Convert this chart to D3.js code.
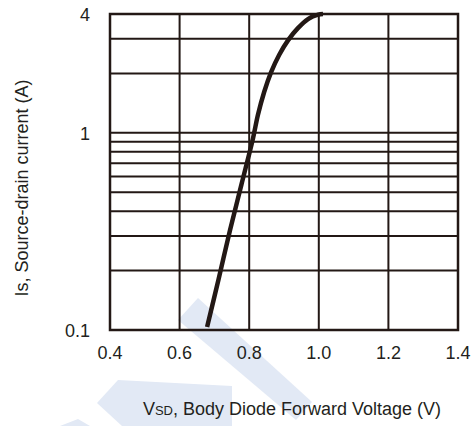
<!DOCTYPE html>
<html>
<head>
<meta charset="utf-8">
<script src="https://cdn.jsdelivr.net/npm/d3@7"></script>
<style>
	body { margin: 0; background: #fff; }
	svg text { font-family: 'Liberation Sans', Arial, sans-serif; fill: #231f20; }
</style>
</head>
<body>
<div id="chart"></div>
<script>
// ********** BODY DIODE FORWARD VOLTAGE CHART **********

// Curve values
const vsd = [0.679, 0.712, 0.745, 0.778, 0.811, 0.825, 0.843, 0.863, 0.886, 0.912, 0.940, 0.969, 0.998, 1.012];
const isd = [0.1035, 0.181, 0.321, 0.549, 0.939, 1.23, 1.61, 2.03, 2.48, 2.95, 3.39, 3.77, 3.97, 4.0];

// Grid and tick values
const xTicks = [0.4, 0.6, 0.8, 1.0, 1.2, 1.4];
const yGrid = [0.1, 0.2, 0.3, 0.4, 0.5, 0.6, 0.7, 0.8, 0.9, 1, 2, 3, 4];
const yLabels = [0.1, 1, 4];

// Chart size and margins
const width = 471;
const height = 426;
const margin = { top: 14, left: 110, right: 13, bottom: 96 };
const ink = '#231815';

const svg = d3.select('#chart')
	.append('svg')
	.attr('width', width)
	.attr('height', height);

// Faint watermark in the background (decoration only)
const watermark = [
	[[178, 320], [198, 298], [312, 402], [296, 420]],
	[[118, 380], [232, 386], [232, 426], [122, 426], [97, 403]],
	[[60, 426], [78, 419], [90, 426]]
];
svg.append('g')
	.attr('class', 'watermark')
	.selectAll('polygon')
	.data(watermark)
	.join('polygon')
	.attr('points', d => d.map(p => p.join(',')).join(' '))
	.attr('fill', '#e2e9f5');

// Scales
const xScale = d3.scaleLinear()
	.domain([0.4, 1.4])
	.range([margin.left, width - margin.right]);

const yScale = d3.scaleLog()
	.domain([0.1, 4])
	.range([height - margin.bottom, margin.top]);

// Grid lines
const grid = svg.append('g').attr('class', 'grid')
	.attr('stroke', ink)
	.attr('stroke-width', 2);

grid.selectAll('line.v')
	.data(xTicks)
	.join('line')
	.attr('class', 'v')
	.attr('x1', d => xScale(d))
	.attr('x2', d => xScale(d))
	.attr('y1', yScale(0.1))
	.attr('y2', yScale(4));

grid.selectAll('line.h')
	.data(yGrid)
	.join('line')
	.attr('class', 'h')
	.attr('x1', xScale(0.4))
	.attr('x2', xScale(1.4))
	.attr('y1', d => yScale(d))
	.attr('y2', d => yScale(d));

// Frame
svg.append('rect')
	.attr('x', xScale(0.4))
	.attr('y', yScale(4))
	.attr('width', xScale(1.4) - xScale(0.4))
	.attr('height', yScale(0.1) - yScale(4))
	.attr('fill', 'none')
	.attr('stroke', ink)
	.attr('stroke-width', 2.5);

// Tick labels
svg.append('g').attr('class', 'x labels')
	.selectAll('text')
	.data(xTicks)
	.join('text')
	.attr('x', d => xScale(d))
	.attr('y', height - margin.bottom + 29)
	.attr('text-anchor', 'middle')
	.style('font-size', '18px')
	.text(d => d3.format('.1f')(d));

svg.append('g').attr('class', 'y labels')
	.selectAll('text')
	.data(yLabels)
	.join('text')
	.attr('x', margin.left - 20)
	.attr('y', d => yScale(d))
	.attr('dy', '0.38em')
	.attr('text-anchor', 'end')
	.style('font-size', '18px')
	.text(d => d);

// Curve
const line = d3.line()
	.x(d => xScale(d[0]))
	.y(d => yScale(d[1]))
	.curve(d3.curveCatmullRom.alpha(0.5));

svg.append('path')
	.datum(vsd.map((v, i) => [v, isd[i]]))
	.attr('d', line)
	.attr('fill', 'none')
	.attr('stroke', ink)
	.attr('stroke-width', 4.5);

// Axis titles
const xTitle = svg.append('text')
	.attr('x', 292)
	.attr('y', 415)
	.attr('text-anchor', 'middle')
	.style('font-size', '18px');
xTitle.append('tspan').text('V');
xTitle.append('tspan').style('font-size', '13px').text('SD');
xTitle.append('tspan').text(', Body Diode Forward Voltage (V)');

svg.append('text')
	.attr('transform', 'translate(28, 188) rotate(-90)')
	.attr('text-anchor', 'middle')
	.style('font-size', '18px')
	.text('Is, Source-drain current (A)');
</script>
</body>
</html>
